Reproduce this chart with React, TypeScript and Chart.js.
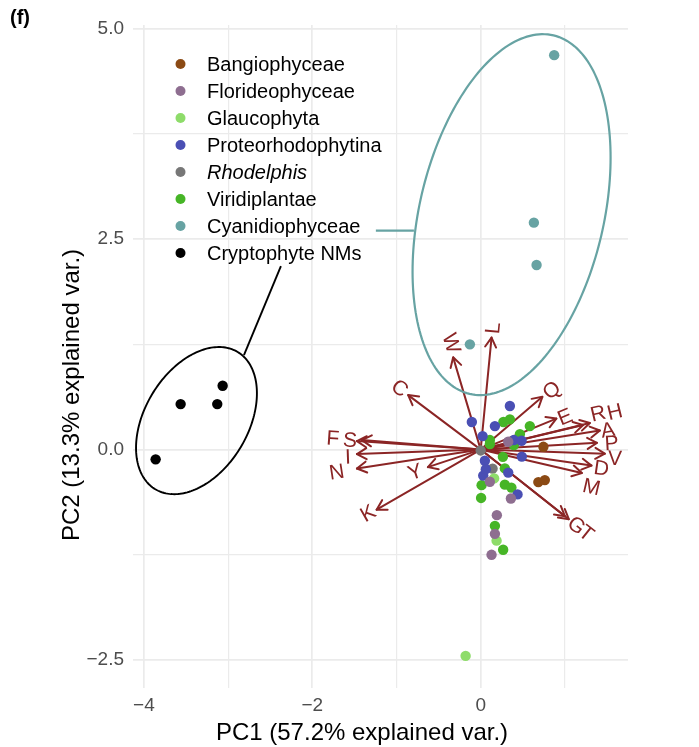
import React, { useEffect, useRef } from "react";
import { Chart, registerables } from "chart.js";
Chart.register(...registerables);

const FONT = "'Liberation Sans', Arial, Helvetica, sans-serif";

// ---- group names & colours ----
const groupNames = ["Bangiophyceae", "Florideophyceae", "Glaucophyta", "Proteorhodophytina", "Rhodelphis", "Viridiplantae", "Cyanidiophyceae", "Cryptophyte NMs"];
const groupColors = ["#8B4A14", "#8E6E90", "#8EDC6A", "#4A4FB4", "#777777", "#46B526", "#67A3A3", "#000000"];

// ---- PCA scores ----
const bangiophyceaeX = [0.745, 0.685, 0.762];
const bangiophyceaeY = [0.033, -0.386, -0.362];
const florideophyceaeX = [0.327, 0.109, 0.359, 0.192, 0.169, 0.129];
const florideophyceaeY = [0.093, -0.382, -0.58, -0.778, -1.0, -1.249];
const glaucophytaX = [0.16, 0.189, -0.179];
const glaucophytaY = [-0.342, -1.081, -2.449];
const proteorhodophytinaX = [0.347, -0.105, 0.169, 0.023, 0.394, 0.486, 0.489, 0.05, 0.327, 0.03, 0.062, 0.438];
const proteorhodophytinaY = [0.517, 0.327, 0.279, 0.16, 0.113, 0.105, -0.083, -0.133, -0.273, -0.309, -0.232, -0.532];
const rhodelphisX = [0.0, 0.141];
const rhodelphisY = [-0.01, -0.226];
const viridiplantaeX = [0.347, 0.27, 0.584, 0.466, 0.109, 0.109, 0.394, 0.264, 0.287, 0.011, 0.287, 0.365, 0.005, 0.169, 0.267];
const viridiplantaeY = [0.359, 0.327, 0.279, 0.184, 0.113, 0.065, 0.053, -0.086, -0.223, -0.422, -0.416, -0.451, -0.574, -0.905, -1.189];
const cyanidiophyceaeX = [0.873, 0.632, 0.664, -0.128];
const cyanidiophyceaeY = [4.682, 2.694, 2.191, 1.249];
const cryptophyteX = [-3.065, -3.564, -3.129, -3.861];
const cryptophyteY = [0.758, 0.54, 0.54, -0.116];

const groupXs = [bangiophyceaeX, florideophyceaeX, glaucophytaX, proteorhodophytinaX, rhodelphisX, viridiplantaeX, cyanidiophyceaeX, cryptophyteX];
const groupYs = [bangiophyceaeY, florideophyceaeY, glaucophytaY, proteorhodophytinaY, rhodelphisY, viridiplantaeY, cyanidiophyceaeY, cryptophyteY];

// ---- loadings (arrows) ----
const varNames = ["L", "W", "C", "Q", "E", "R", "H", "A", "P", "V", "D", "M", "G", "T", "K", "Y", "N", "I", "F", "S"];
const varTipX = [0.129, -0.327, -0.861, 0.733, 0.899, 1.217, 1.297, 1.416, 1.381, 1.475, 1.316, 1.202, 1.0, 1.047, -1.236, -0.627, -1.47, -1.47, -1.47, -1.411];
const varTipY = [1.33, 1.095, 0.647, 0.626, 0.368, 0.291, 0.315, 0.226, 0.08, -0.048, -0.19, -0.279, -0.79, -0.826, -0.713, -0.208, -0.225, -0.053, 0.101, 0.113];
const varLabelX = [0.145, -0.346, -0.96, 0.842, 1.0, 1.395, 1.594, 1.511, 1.555, 1.594, 1.436, 1.317, 1.139, 1.258, -1.34, -0.781, -1.711, -1.577, -1.755, -1.553];
const varLabelY = [1.443, 1.265, 0.73, 0.707, 0.39, 0.43, 0.449, 0.232, 0.077, -0.101, -0.22, -0.442, -0.897, -0.992, -0.754, -0.264, -0.264, -0.086, 0.137, 0.113];

// ---- ellipses: centre x, centre y, semi-major, semi-minor, angle (deg) ----
const cyanEllipse = [0.367, 2.789, 2.185, 1.094, 76.8];
const cryptoEllipse = [-3.376, 0.344, 0.95, 0.613, 59];
// leader lines (data units)
const cyanLeader = [-1.245, 2.599, -0.793, 2.599];
const cryptoLeader = [-2.812, 1.122, -2.373, 2.179];

// ---- axes ----
const xTicks = [-4, -3, -2, -1, 0, 1];
const xTickLabels = ["\u22124", "", "\u22122", "", "0", ""];
const yTicks = [-2.5, -1.25, 0, 1.25, 2.5, 3.75, 5];
const yTickLabels = ["\u22122.5", "", "0.0", "", "2.5", "", "5.0"];
const xRange = [-4.13, 1.75];
const yRange = [-2.83, 5.04];

const ARROW = "#8B2525";

const overlayPlugin = {
  id: "overlay",
  beforeDatasetsDraw(chart: any) {
    const { ctx, scales } = chart;
    const xs = scales.x, ys = scales.y;
    const ox = xs.getPixelForValue(0), oy = ys.getPixelForValue(0);
    ctx.save();
    ctx.strokeStyle = ARROW;
    ctx.lineWidth = 2;
    ctx.lineCap = "round";
    ctx.lineJoin = "round";
    for (let i = 0; i < varNames.length; i++) {
      const tx = xs.getPixelForValue(varTipX[i]);
      const ty = ys.getPixelForValue(varTipY[i]);
      const ang = Math.atan2(ty - oy, tx - ox);
      ctx.beginPath();
      ctx.moveTo(ox, oy);
      ctx.lineTo(tx, ty);
      ctx.stroke();
      const hl = 11, ha = Math.PI / 6;
      ctx.beginPath();
      ctx.moveTo(tx - hl * Math.cos(ang - ha), ty - hl * Math.sin(ang - ha));
      ctx.lineTo(tx, ty);
      ctx.lineTo(tx - hl * Math.cos(ang + ha), ty - hl * Math.sin(ang + ha));
      ctx.stroke();
    }
    ctx.restore();
  },
  afterDatasetsDraw(chart: any) {
    const { ctx, scales } = chart;
    const xs = scales.x, ys = scales.y;
    const px = (v: number) => xs.getPixelForValue(v);
    const py = (v: number) => ys.getPixelForValue(v);
    ctx.save();
    const drawEllipse = (e: number[], color: string, lw: number) => {
      const [cx, cy, a, b, deg] = e;
      const t = (deg * Math.PI) / 180;
      ctx.beginPath();
      for (let k = 0; k <= 200; k++) {
        const s = (k / 200) * Math.PI * 2;
        const u = a * Math.cos(s), v = b * Math.sin(s);
        const x = cx + u * Math.cos(t) - v * Math.sin(t);
        const y = cy + u * Math.sin(t) + v * Math.cos(t);
        if (k === 0) ctx.moveTo(px(x), py(y));
        else ctx.lineTo(px(x), py(y));
      }
      ctx.closePath();
      ctx.strokeStyle = color;
      ctx.lineWidth = lw;
      ctx.stroke();
    };
    drawEllipse(cyanEllipse, groupColors[6], 2.2);
    drawEllipse(cryptoEllipse, "#000000", 1.9);
    ctx.beginPath();
    ctx.moveTo(px(cyanLeader[0]), py(cyanLeader[1]));
    ctx.lineTo(px(cyanLeader[2]), py(cyanLeader[3]));
    ctx.strokeStyle = groupColors[6];
    ctx.lineWidth = 2.4;
    ctx.stroke();
    ctx.beginPath();
    ctx.moveTo(px(cryptoLeader[0]), py(cryptoLeader[1]));
    ctx.lineTo(px(cryptoLeader[2]), py(cryptoLeader[3]));
    ctx.strokeStyle = "#000000";
    ctx.lineWidth = 1.9;
    ctx.stroke();

    // variable labels
    ctx.fillStyle = ARROW;
    ctx.font = `21px ${FONT}`;
    ctx.textAlign = "center";
    ctx.textBaseline = "middle";
    for (let i = 0; i < varNames.length; i++) {
      const rot = Math.atan(varTipY[i] / varTipX[i]);
      ctx.save();
      ctx.translate(px(varLabelX[i]), py(varLabelY[i]));
      ctx.rotate(-rot);
      ctx.fillText(varNames[i], 0, 1);
      ctx.restore();
    }

    // legend
    const lx = 180.5, tx = 207, y0 = 64, dy = 27;
    for (let i = 0; i < groupNames.length; i++) {
      const y = y0 + dy * i;
      ctx.beginPath();
      ctx.arc(lx, y, 5, 0, Math.PI * 2);
      ctx.fillStyle = groupColors[i];
      ctx.fill();
      ctx.fillStyle = "#000000";
      ctx.textAlign = "left";
      ctx.textBaseline = "middle";
      ctx.font = (groupNames[i] === "Rhodelphis" ? "italic " : "") + `20px ${FONT}`;
      ctx.fillText(groupNames[i], tx, y + 1);
    }

    // axis titles
    ctx.fillStyle = "#000000";
    ctx.font = `24px ${FONT}`;
    ctx.textAlign = "center";
    ctx.textBaseline = "middle";
    ctx.fillText("PC1 (57.2% explained var.)", 362, 733);
    ctx.save();
    ctx.translate(72, 395);
    ctx.rotate(-Math.PI / 2);
    ctx.fillText("PC2 (13.3% explained var.)", 0, 0);
    ctx.restore();

    // panel tag
    ctx.font = `bold 20px ${FONT}`;
    ctx.textAlign = "left";
    ctx.fillText("(f)", 10, 18);
    ctx.restore();
  },
};

export default function App() {
  const ref = useRef<HTMLCanvasElement | null>(null);
  useEffect(() => {
    if (!ref.current) return;
    const datasets = groupNames.map((name, i) => ({
      label: name,
      data: groupXs[i].map((x, j) => ({ x, y: groupYs[i][j] })),
      backgroundColor: groupColors[i],
      borderWidth: 0,
      pointRadius: 5.2,
      pointHoverRadius: 5.2,
    }));
    const chart = new Chart(ref.current, {
      type: "scatter",
      data: { datasets },
      options: {
        animation: false,
        responsive: false,
        devicePixelRatio: 1,
        layout: { padding: { left: 0, top: 25, right: 71, bottom: 0 } },
        plugins: { legend: { display: false }, tooltip: { enabled: false } },
        scales: {
          x: {
            type: "linear",
            min: xRange[0],
            max: xRange[1],
            afterBuildTicks: (s: any) => { s.ticks = xTicks.map((v) => ({ value: v })); },
            afterFit: (s: any) => { s.height = 59; },
            grid: {
              color: "#EBEBEB",
              lineWidth: (c: any) => (c.tick && xTickLabels[xTicks.indexOf(c.tick.value)] !== "" ? 1.7 : 1.2),
              drawTicks: false,
            },
            border: { display: false },
            ticks: {
              color: "#4D4D4D",
              font: { size: 19, family: FONT },
              padding: 6,
              maxRotation: 0,
              autoSkip: false,
              callback: (v: any) => { const k = xTicks.indexOf(Number(v)); return k >= 0 ? xTickLabels[k] : ""; },
            },
          },
          y: {
            type: "linear",
            min: yRange[0],
            max: yRange[1],
            afterBuildTicks: (s: any) => { s.ticks = yTicks.map((v) => ({ value: v })); },
            afterFit: (s: any) => { s.width = 133; },
            grid: {
              color: "#EBEBEB",
              lineWidth: (c: any) => (c.tick && yTickLabels[yTicks.indexOf(c.tick.value)] !== "" ? 1.7 : 1.2),
              drawTicks: false,
            },
            border: { display: false },
            ticks: {
              color: "#4D4D4D",
              font: { size: 19, family: FONT },
              padding: 9,
              autoSkip: false,
              callback: (v: any) => { const k = yTicks.indexOf(Number(v)); return k >= 0 ? yTickLabels[k] : ""; },
            },
          },
        },
      },
      plugins: [overlayPlugin],
    } as any);
    return () => chart.destroy();
  }, []);
  return (
    <div style={{ position: "absolute", left: 0, top: 0, width: 699, height: 747, background: "#ffffff" }}>
      <canvas ref={ref} width={699} height={747} style={{ display: "block" }} />
    </div>
  );
}
